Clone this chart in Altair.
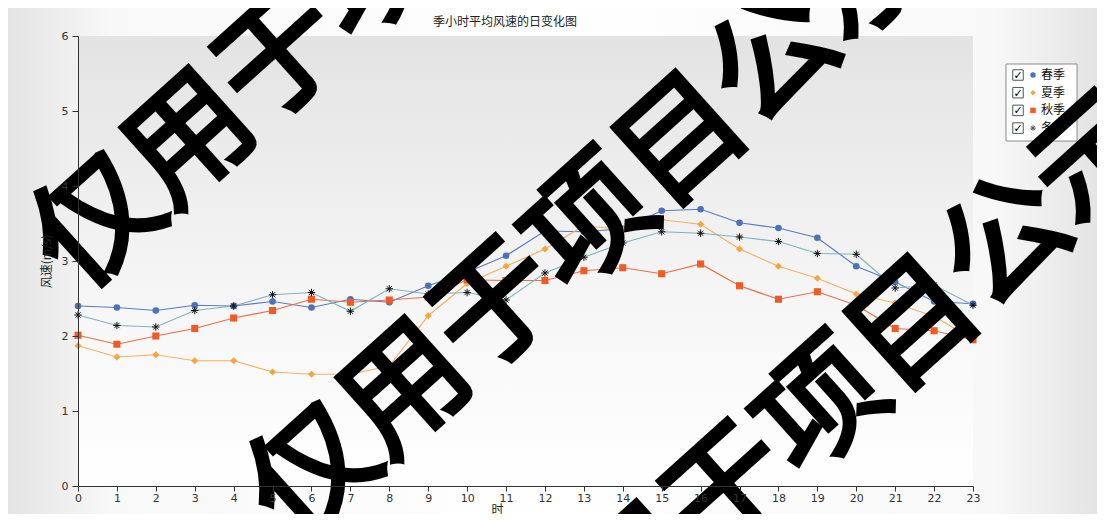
import altair as alt
import pandas as pd

hours = list(range(24))
seasons = ["春季", "夏季", "秋季", "冬季"]
spring = [2.40, 2.38, 2.34, 2.41, 2.40, 2.46, 2.38, 2.49, 2.45, 2.67, 2.85, 3.07,
          3.40, 3.39, 3.43, 3.67, 3.69, 3.51, 3.44, 3.31, 2.93, 2.72, 2.46, 2.43]
summer = [1.87, 1.72, 1.75, 1.67, 1.67, 1.52, 1.49, 1.49, 1.60, 2.27, 2.70, 2.93,
          3.16, 3.47, 3.42, 3.55, 3.49, 3.16, 2.93, 2.77, 2.56, 2.44, 2.26, 1.96]
autumn = [2.01, 1.89, 2.00, 2.10, 2.24, 2.34, 2.49, 2.45, 2.48, 2.52, 2.75, 2.74,
          2.74, 2.87, 2.91, 2.83, 2.96, 2.67, 2.49, 2.59, 2.41, 2.10, 2.07, 1.95]
winter = [2.28, 2.14, 2.12, 2.34, 2.40, 2.55, 2.58, 2.33, 2.63, 2.56, 2.58, 2.48,
          2.84, 3.05, 3.24, 3.39, 3.37, 3.32, 3.26, 3.10, 3.09, 2.64, 2.68, 2.41]
y_ticks = [0, 1, 2, 3, 4, 5, 6]
title_text = "季小时平均风速的日变化图"
x_title = "时"
y_title = "风速(m/s)"
watermark = "仅用于项目公示"

line_colors = ["#5b7dbd", "#f2b262", "#ee6d45", "#7db4be"]
marker_colors = ["#4e72b8", "#f5a640", "#ef5a25", "#111111"]
ASTERISK = "M-1,0L1,0M0,-1L0,1M-0.7,-0.7L0.7,0.7M-0.7,0.7L0.7,-0.7"
marker_shapes = ["circle", "diamond", "square", ASTERISK]
marker_sizes = [44, 52, 50, 55]

rows = []
for s, vals in zip(seasons, [spring, summer, autumn, winter]):
    for h, v in zip(hours, vals):
        rows.append({"hour": h, "value": v, "season": s})
df = pd.DataFrame(rows)

W, H = 895, 450
FONT_CJK = "Noto Sans CJK SC"

x_enc = alt.X("hour:Q", scale=alt.Scale(domain=[0, 23], nice=False, zero=False),
              axis=alt.Axis(values=hours, title=x_title, tickSize=5, labelPadding=1,
                            titleX=419, titleY=23, titleAlign="center",
                            titleBaseline="middle", labelFlush=False, zindex=1))
y_enc = alt.Y("value:Q", scale=alt.Scale(domain=[0, 6], nice=False),
              axis=alt.Axis(values=y_ticks, title=y_title, tickSize=6, labelPadding=4,
                            titleX=-32, titleY=225, titleAngle=270,
                            titleAlign="center", titleBaseline="middle", zindex=1))

base = alt.Chart(df)
one = alt.Chart(pd.DataFrame({"k": [0]}))  # single-row source for decorations

page_bg = one.mark_rect(
    color=alt.LinearGradient(
        gradient="linear", x1=0, y1=0, x2=1, y2=0,
        stops=[alt.GradientStop(offset=0, color="#e2e2e2"),
               alt.GradientStop(offset=0.1, color="#f8f8f8"),
               alt.GradientStop(offset=0.5, color="#ffffff"),
               alt.GradientStop(offset=0.9, color="#f8f8f8"),
               alt.GradientStop(offset=1, color="#e2e2e2")])
).encode(x=alt.value(-78), x2=alt.value(1105 - 78), y=alt.value(-36), y2=alt.value(522 - 36))

plot_bg = one.mark_rect(
    color=alt.LinearGradient(
        gradient="linear", x1=0, y1=0, x2=0, y2=1,
        stops=[alt.GradientStop(offset=0, color="#e3e3e3"),
               alt.GradientStop(offset=0.55, color="#f5f5f5"),
               alt.GradientStop(offset=1, color="#ffffff")])
).encode(x=alt.value(0), x2=alt.value(W), y=alt.value(0), y2=alt.value(H))

title_mark = one.mark_text(text=title_text, fontSize=12, font=FONT_CJK, align="center",
                           baseline="middle", color="#222222").encode(
    x=alt.value(427), y=alt.value(-14))

lines = base.mark_line(strokeWidth=1.2).encode(
    x=x_enc, y=y_enc,
    color=alt.Color("season:N", scale=alt.Scale(domain=seasons, range=line_colors), legend=None),
)

layers = [page_bg, plot_bg, title_mark, lines]
for s, shp, col, sz in zip(seasons, marker_shapes, marker_colors, marker_sizes):
    is_star = shp == ASTERISK
    layers.append(
        base.transform_filter(alt.datum.season == s).mark_point(
            shape=shp, filled=not is_star, color=col, size=sz, opacity=1,
            strokeWidth=1 if is_star else 0.5,
        ).encode(x=x_enc, y=y_enc)
    )

# custom legend (box, checkboxes, symbols, labels)
legend_x0, legend_x1, legend_y0, legend_y1 = 928, 999, 28, 105
layers.append(one.mark_rect(fill="#ffffff", stroke="#8a8a8a", strokeWidth=1).encode(
    x=alt.value(legend_x0), x2=alt.value(legend_x1), y=alt.value(legend_y0), y2=alt.value(legend_y1)))
for i, (s, shp, col) in enumerate(zip(seasons, marker_shapes, marker_colors)):
    ry = 39 + i * 17.7
    layers.append(one.mark_square(size=110, fill="#ffffff", stroke="#555555", strokeWidth=1,
                                  opacity=1).encode(x=alt.value(940), y=alt.value(ry)))
    layers.append(one.mark_text(text="✓", fontSize=11, font="DejaVu Sans", fontWeight="bold",
                                color="#000000").encode(x=alt.value(940), y=alt.value(ry + 1)))
    is_star = shp == ASTERISK
    layers.append(one.mark_point(shape=shp, filled=not is_star, color=col if not is_star else "#555555",
                                 size=30, opacity=1, strokeWidth=1).encode(
        x=alt.value(955), y=alt.value(ry)))
    layers.append(one.mark_text(text=s, fontSize=12, font=FONT_CJK, align="left",
                                baseline="middle", color="#111111").encode(
        x=alt.value(963), y=alt.value(ry)))

# watermark
for cx, cy in [(298, -60), (514, 190), (746, 374)]:
    layers.append(one.mark_text(text=watermark, fontSize=124, font=FONT_CJK, fontWeight="normal",
                                angle=318, align="center", baseline="middle",
                                color="#000000", stroke="#000000", strokeWidth=5).encode(
        x=alt.value(cx), y=alt.value(cy)))

chart = alt.layer(*layers).properties(
    width=W, height=H,
    padding={"left": 70, "top": 28, "right": 124, "bottom": 28},
    autosize=alt.AutoSizeParams(type="none"),
).configure_view(
    stroke="#333333", strokeWidth=1
).configure_axis(
    labelFont="DejaVu Sans", labelFontSize=11, labelColor="#333333",
    tickColor="#333333", domainColor="#333333", grid=False,
    titleFont=FONT_CJK, titleFontSize=12, titleFontWeight="normal", titleColor="#222222",
)

chart.save("out.html", embed_options={"renderer": "svg", "actions": False})
